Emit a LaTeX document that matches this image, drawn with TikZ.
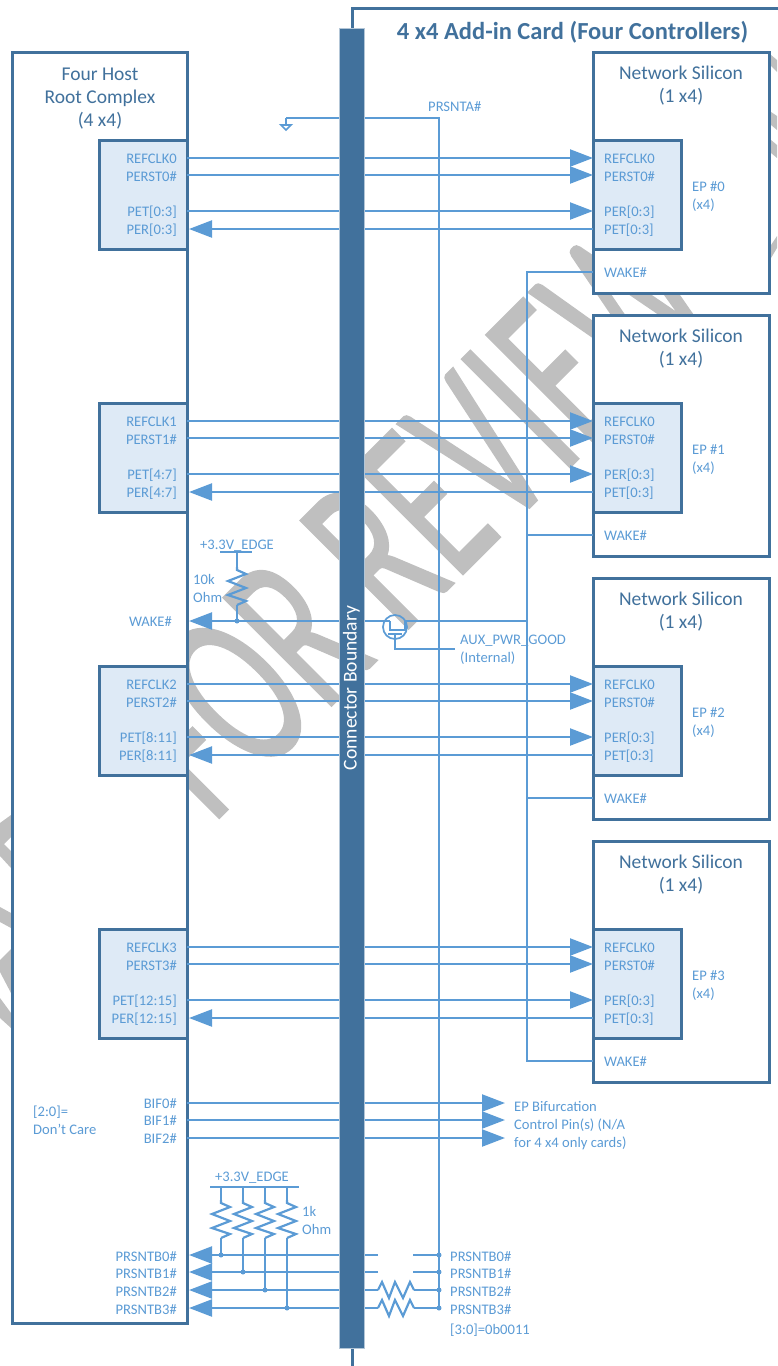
\documentclass[tikz,border=0pt]{standalone}
\usepackage{fontspec}
\setmainfont{Carlito}
\newfontfamily\markfont{Carlito}[FakeBold=0.9]
\usetikzlibrary{arrows.meta}
\definecolor{darkblue}{HTML}{41719C}
\definecolor{lineblue}{HTML}{5B9BD5}
\definecolor{portfill}{HTML}{DEEAF6}
\definecolor{markgray}{HTML}{BFBFBF}
\tikzset{
  bigbox/.style={draw=darkblue, line width=3pt, fill=white, inner sep=0pt, outer sep=0pt},
  portbox/.style={draw=darkblue, line width=3pt, fill=portfill, inner sep=0pt, outer sep=0pt, minimum width=88pt, minimum height=109pt},
  sig/.style={draw=lineblue, line width=2.2pt},
  thinsig/.style={draw=lineblue, line width=1.7pt},
  tipped/.style={sig, -{Triangle[length=23pt,width=17pt]}},
  siglabel/.style={text=lineblue, font=\fontsize{14.6pt}{15pt}\selectfont, inner sep=0pt, text height=10pt, text depth=0pt},
  bigtitle/.style={text=darkblue, font=\fontsize{19.5pt}{23pt}\selectfont, align=center, inner sep=0pt},
  infolabel/.style={text=lineblue, font=\fontsize{14.6pt}{18pt}\selectfont, align=left, inner sep=0pt},
  dot/.style={fill=lineblue},
  vres/.pic={\draw[sig] (0,0) -- (0,3) -- (9,7) -- (-9,14) -- (9,21) -- (-9,28) -- (9,34) -- (0,38);},
  hres/.pic={\draw[sig] (0,0) -- (4,-8) -- (11,8) -- (17,-8) -- (25,8) -- (32,-8) -- (36,0);}
}
\begin{document}
\begin{tikzpicture}[x=1pt,y=-1pt]
  \useasboundingbox (0,0) rectangle (777,1366);

  % Watermark
  \node[rotate=45, yscale=1.676, anchor=base west, text=markgray, inner sep=0pt, font=\markfont\fontsize{142pt}{142pt}\selectfont] (mark) at (212,825) {FOR REVIEW};
  % Watermark pieces in the margins
  \fill[markgray] (0,823) -- (11,815) -- (11,837) -- (4,844) -- (11,851) -- (11,868) -- (0,856) -- cycle;
  \fill[markgray] (0,907) -- (11,913) -- (11,928) -- (0,922) -- cycle;
  \fill[markgray] (0,960) -- (11,949) -- (11,993) -- (0,972) -- cycle;
  \fill[markgray] (0,998) -- (11,1013) -- (11,1028) -- (0,1018) -- cycle;
  \fill[markgray] (771,55) -- (777,60) -- (777,72) -- (771,66) -- cycle;
  \fill[markgray] (771,112) -- (777,116) -- (777,130) -- (771,125) -- cycle;
  \fill[markgray] (771,140) -- (777,145) -- (777,158) -- (771,153) -- cycle;
  \fill[markgray] (771,258) -- (777,248) -- (777,236) -- (771,245) -- cycle;

  % Add-in card outline
  \coordinate (cardbot) at (352,1366);
  \coordinate (cardtopl) at (352,8);
  \coordinate (cardtopr) at (780,8);
  \draw[darkblue, line width=3pt] (cardbot) -- (cardtopl) -- (cardtopr);
  \node[text=darkblue, font=\fontsize{24.5pt}{26pt}\bfseries\selectfont, inner sep=0pt] (cardtitle) at (572.5,32) {4 x4 Add-in Card (Four Controllers)};

  % Host
  \node[bigbox, minimum width=175pt, minimum height=1271pt] (host) at (99.5,687.5) {};
  \node[bigtitle] (hosttitle) at (100,99) {Four Host\\Root Complex\\(4 x4)};

  % Four ports with their silicon
  \foreach \i/\y/\t/\r in {0/140/52/0:3, 1/403/315/4:7, 2/666/578/8:11, 3/929/841/12:15} {
    \node[bigbox, minimum width=176pt, minimum height=241pt] (sil\i) at (681,\t+120.5) {};
    \node[bigtitle] (siltitle\i) at (681,\t+34) {Network Silicon\\(1 x4)};
    \node[portbox] (hp\i) at (143,\y+54.5) {};
    \node[portbox] (ep\i) at (637,\y+54.5) {};
    % Labels
    \node[siglabel, anchor=east] (hclk\i) at (177,\y+18) {REFCLK\i};
    \node[siglabel, anchor=east] (hrst\i) at (177,\y+36) {PERST\i\#};
    \node[siglabel, anchor=east] (hpet\i) at (177,\y+71) {PET[\r]};
    \node[siglabel, anchor=east] (hper\i) at (177,\y+89) {PER[\r]};
    \node[siglabel, anchor=west] (eclk\i) at (604,\y+18) {REFCLK0};
    \node[siglabel, anchor=west] (erst\i) at (604,\y+36) {PERST0\#};
    \node[siglabel, anchor=west] (eper\i) at (604,\y+71) {PER[0:3]};
    \node[siglabel, anchor=west] (epet\i) at (604,\y+89) {PET[0:3]};
    \node[siglabel, anchor=west] (ewake\i) at (604,\y+132) {WAKE\#};
    \node[infolabel, anchor=north west] (epname\i) at (692,\y+41) {EP \#\i\\(x4)};
    % Lines to the silicon
    \foreach \d in {18,35,71} {
      \coordinate (ha\i\d) at (187,\y+\d);
      \coordinate (ea\i\d) at (593,\y+\d);
      \draw[tipped] (ha\i\d) -- (ea\i\d);
    }
    \coordinate (ha\i) at (189,\y+89);
    \coordinate (ea\i) at (593,\y+89);
    \draw[tipped] (ea\i) -- (ha\i);
  }

  % PRSNTA
  \coordinate (gnd) at (286,118);
  \coordinate (prsnttop) at (439,118);
  \coordinate (prsntbot) at (439,1308);
  \draw[thinsig] (gnd) -- (prsnttop) -- (prsntbot);
  \draw[thinsig] (gnd) -- (286,125) (281,125) -- (291,125) -- (286,130) -- cycle;
  \node[siglabel, anchor=west] (prsntaname) at (428,106) {PRSNTA\#};

  % Wake rail
  \coordinate (waketop) at (527,272);
  \coordinate (wakebot) at (527,1061);
  \draw[thinsig] (sil0.west |- waketop) -- (waketop) -- (wakebot) -- (sil3.west |- wakebot);
  \coordinate (wake1) at (527,535);
  \coordinate (wake2) at (527,798);
  \draw[thinsig] (wake1) -- (sil1.west |- wake1);
  \draw[thinsig] (wake2) -- (sil2.west |- wake2);

  % Wake to host through the FET
  \coordinate (wakemid) at (527,621);
  \coordinate (waketip) at (189,621);
  \coordinate (fetc) at (395,627);
  \draw[sig] (wakemid) -- (405,621) -- (405,630) -- (390,630) -- (390,621);
  \draw[tipped] (390,621) -- (waketip);
  \draw[thinsig] (fetc) circle (12pt);
  \draw[sig] (388,634) -- (402,634);
  \draw[sig] (395,634) -- (395,649) -- (455,649);
  \node[infolabel, anchor=north west] (auxname) at (460,635) {AUX\_PWR\_GOOD\\(Internal)};

  % Wake pull up
  \coordinate (rail1) at (237,552);
  \draw[sig] (220,552) -- (252,552);
  \draw[sig] (rail1) -- (237,567);
  \pic at (237,567) {vres};
  \draw[sig] (237,605) -- (237,621);
  \fill[dot] (237,621) circle (2.5pt);
  \node[siglabel] (railname1) at (237,544) {+3.3V\_EDGE};
  \node[infolabel, anchor=north west] (resname1) at (193,574) {10k\\Ohm};
  \node[siglabel, anchor=east] (wakename) at (172,621) {WAKE\#};

  % BIF
  \foreach \i/\y in {0/1103, 1/1120, 2/1138} {
    \coordinate (bifa\i) at (187,\y);
    \coordinate (bifb\i) at (505,\y);
    \draw[tipped] (bifa\i) -- (bifb\i);
    \node[siglabel, anchor=east] (bifname\i) at (177,\y) {BIF\i\#};
  }
  \node[infolabel, anchor=north west] (bifnote) at (33,1106) {[2:0]=\\Don’t Care};
  \node[infolabel, anchor=north west] (bifpin) at (514,1101) {EP Bifurcation\\Control Pin(s) (N/A\\for 4 x4 only cards)};

  % PRSNTB
  \draw[sig] (210,1187) -- (299,1187);
  \node[siglabel] (railname2) at (252,1176) {+3.3V\_EDGE};
  \node[infolabel, anchor=north west] (resname2) at (302,1206) {1k\\Ohm};
  \foreach \i/\y/\x in {0/1255/221, 1/1272/243, 2/1290/265, 3/1308/287} {
    \coordinate (rt\i) at (\x,1187);
    \coordinate (rb\i) at (\x,\y);
    \draw[sig] (rt\i) -- (\x,1200);
    \pic at (\x,1200) {vres};
    \draw[sig] (\x,1238) -- (rb\i);
    \fill[dot] (rb\i) circle (2.5pt);
    \coordinate (pb\i) at (439,\y);
    \fill[dot] (pb\i) circle (2.5pt);
    \node[siglabel, anchor=east] (phost\i) at (177,\y+1) {PRSNTB\i\#};
    \node[siglabel, anchor=west] (pcard\i) at (450,\y+1) {PRSNTB\i\#};
  }
  \foreach \i/\y in {0/1255, 1/1272} {
    \coordinate (ps\i) at (378,\y);
    \coordinate (pr\i) at (413,\y);
    \draw[tipped] (ps\i) -- (189,\y);
    \draw[sig] (pr\i) -- (pb\i);
  }
  \foreach \i/\y in {2/1290, 3/1308} {
    \coordinate (ps\i) at (378,\y);
    \coordinate (pr\i) at (414,\y);
    \draw[tipped] (ps\i) -- (189,\y);
    \pic at (378,\y) {hres};
    \draw[sig] (pr\i) -- (pb\i);
  }
  \node[siglabel, anchor=west] (pcode) at (450,1329) {[3:0]=0b0011};

  % Connector bar
  \node[fill=darkblue, draw=white!60!darkblue, line width=.5pt, minimum width=25pt, minimum height=1320pt, inner sep=0pt] (bar) at (351.5,688) {};
  \node[rotate=90, text=white, font=\fontsize{19.6pt}{22pt}\selectfont, inner sep=0pt] (barname) at (351.5,688) {Connector Boundary};
\end{tikzpicture}
\end{document}
